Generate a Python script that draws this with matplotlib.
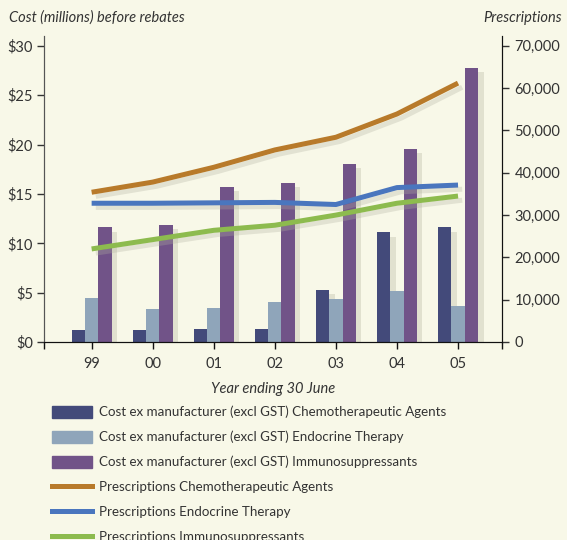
import numpy as np
import matplotlib.pyplot as plt
import matplotlib.patheffects as pe
from matplotlib.patches import Patch
from matplotlib.lines import Line2D

years = ["99", "00", "01", "02", "03", "04", "05"]

# cost ex manufacturer, $ millions
cost_chemo = [1.2, 1.2, 1.3, 1.3, 5.3, 11.1, 11.6]
cost_endo = [4.5, 3.3, 3.4, 4.1, 4.4, 5.2, 3.6]
cost_immuno = [11.6, 11.9, 15.7, 16.1, 18.0, 19.6, 27.8]

# prescriptions
rx_chemo = [35400, 37800, 41300, 45400, 48400, 53900, 61200]
rx_endo = [32800, 32800, 32900, 33000, 32500, 36500, 37100]
rx_immuno = [22000, 24200, 26400, 27600, 30000, 32800, 34500]

bg = "#f8f8e8"
c_navy = "#434a7a"
c_light = "#8fa5ba"
c_purple = "#715388"
c_orange = "#b87a2a"
c_blue = "#4a76be"
c_green = "#8dbb4e"
txt = "#333333"

plt.rcParams["font.family"] = ["Lato", "DejaVu Sans"]

fig = plt.figure(figsize=(5.67, 5.40), dpi=100, facecolor=bg)
ax = fig.add_axes([44 / 567, 1 - 342 / 540, 458 / 567, 306 / 540])
ax.set_facecolor(bg)

x = np.arange(len(years))
w = 0.218
shadow = [pe.SimplePatchShadow(offset=(4, -3), shadow_rgbFace="#d2d2bf", alpha=0.6), pe.Normal()]
for off, vals, col in [(-w, cost_chemo, c_navy), (0, cost_endo, c_light), (w, cost_immuno, c_purple)]:
    bars = ax.bar(x + off, vals, width=w, color=col, zorder=2)
    for b in bars:
        b.set_path_effects(shadow)

ax.set_xlim(-0.78, 6.72)
ax.set_ylim(0, 31)
ax.set_yticks(range(0, 31, 5))
ax.set_yticklabels([f"${v}" for v in range(0, 31, 5)])
ax.set_xticks(list(x) + [-0.78, 6.72])
ax.set_xticklabels(years + ["", ""])

ax2 = ax.twinx()
ax2.set_ylim(0, 31 * 70000 / 30)
ax2.set_yticks(range(0, 70001, 10000))
ax2.set_yticklabels([f"{v:,}" for v in range(0, 70001, 10000)])
lshadow = [pe.SimpleLineShadow(offset=(3, -3), shadow_color="#b0b0a0", alpha=0.3), pe.Normal()]
for vals, col in [(rx_chemo, c_orange), (rx_endo, c_blue), (rx_immuno, c_green)]:
    ax2.plot(x, vals, color=col, lw=3.6, solid_capstyle="butt", path_effects=lshadow)

for a in (ax, ax2):
    a.spines["top"].set_visible(False)
    a.spines["left"].set_color("#555555")
    a.spines["right"].set_color("#111111")
    a.spines["bottom"].set_color("#111111")
    a.tick_params(colors=txt, labelsize=10.5, length=5, width=1)
ax.tick_params(axis="x", pad=6, color="#111111")
ax.tick_params(axis="y", pad=3)
ax2.tick_params(axis="y", pad=4)

ax.set_xlabel("Year ending 30 June", style="italic", fontsize=10.5, color=txt, labelpad=8)
fig.text(9 / 567, 1 - 18 / 540, "Cost (millions) before rebates", style="italic",
         fontsize=10.5, color=txt, va="center", ha="left")
fig.text(562 / 567, 1 - 18 / 540, "Prescriptions", style="italic",
         fontsize=10.5, color=txt, va="center", ha="right")

handles = [
    Patch(color=c_navy, label="Cost ex manufacturer (excl GST) Chemotherapeutic Agents"),
    Patch(color=c_light, label="Cost ex manufacturer (excl GST) Endocrine Therapy"),
    Patch(color=c_purple, label="Cost ex manufacturer (excl GST) Immunosuppressants"),
    Line2D([], [], color=c_orange, lw=3.6, label="Prescriptions Chemotherapeutic Agents"),
    Line2D([], [], color=c_blue, lw=3.6, label="Prescriptions Endocrine Therapy"),
    Line2D([], [], color=c_green, lw=3.6, label="Prescriptions Immunosuppressants"),
]
leg = fig.legend(handles=handles, loc="upper left", bbox_to_anchor=(45 / 567, 1 - 399 / 540),
                 frameon=False, fontsize=9.6, handlelength=3.0, handleheight=1.05,
                 labelspacing=0.92, handletextpad=0.55, borderpad=0)
for t in leg.get_texts():
    t.set_color(txt)

fig.savefig("out.png", dpi=100, facecolor=bg)
